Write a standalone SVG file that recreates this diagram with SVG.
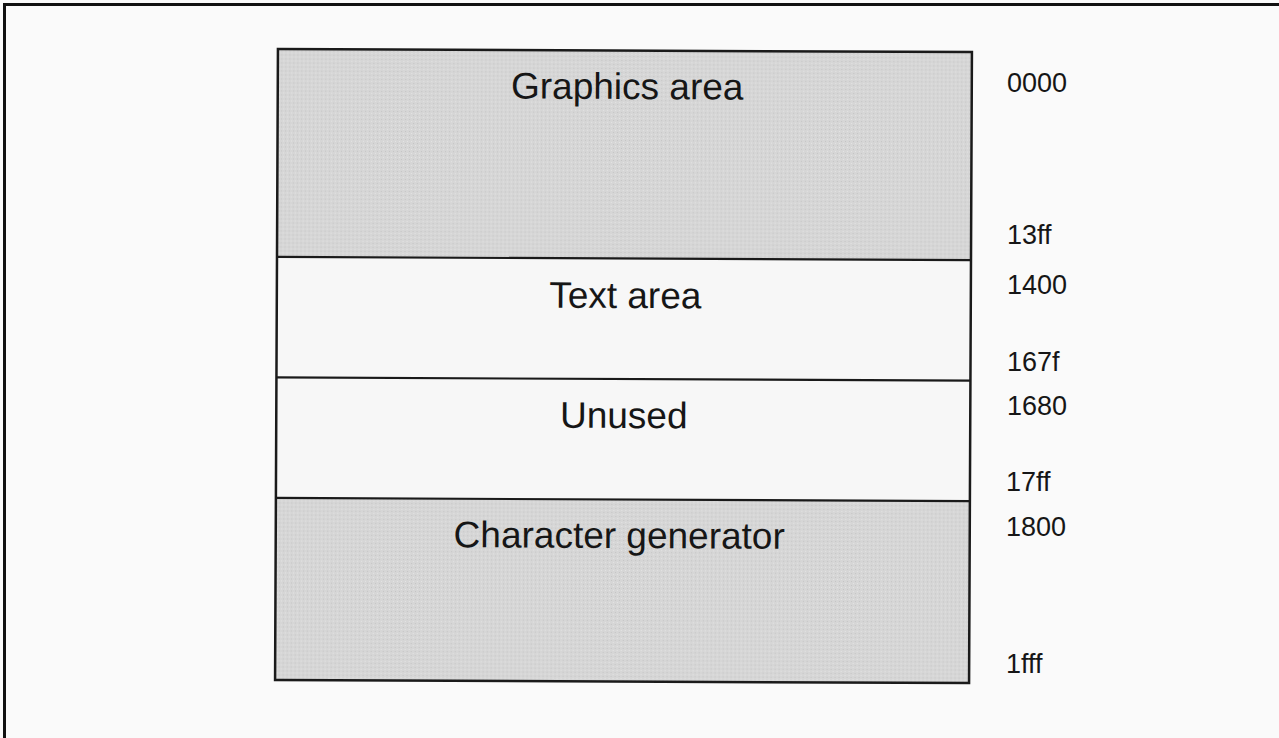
<svg xmlns="http://www.w3.org/2000/svg" width="1279" height="738" viewBox="0 0 1279 738">
<style>
.bg{fill:#fafafa}
.frame{stroke:#111;stroke-width:3;fill:none}
.plain{fill:#f7f7f7;stroke:none}
.edge{stroke:#1a1a1a;stroke-width:2.5;fill:none}
.div{stroke:#1a1a1a;stroke-width:2.2}
.lbl{font-family:"Liberation Sans",Arial,sans-serif;font-size:37px;fill:#161616;text-anchor:middle}
.addr{font-family:"Liberation Sans",Arial,sans-serif;font-size:27px;fill:#161616}
</style>
<defs>
<pattern id="dots" width="4" height="4" patternUnits="userSpaceOnUse">
<rect width="4" height="4" fill="#d6d6d6"/>
<rect x="0" y="0" width="1" height="1" fill="#c4c4c4"/>
<rect x="2" y="2" width="1" height="1" fill="#e4e4e4"/>
</pattern>
</defs>
<rect class="bg" x="0" y="0" width="1279" height="738"/>
<path class="frame" d="M4.5 738 V4.5 H1279"/>
<g transform="rotate(0.26 623.5 366)">
<g id="graphics">
<rect x="276.5" y="50.5" width="694" height="208" fill="url(#dots)"/>
<text class="lbl" x="626" y="99">Graphics area</text>
</g>
<g id="text-area">
<rect class="plain" x="276.5" y="258.5" width="694" height="120.5"/>
<text class="lbl" x="625" y="308">Text area</text>
</g>
<g id="unused">
<rect class="plain" x="276.5" y="379" width="694" height="120.5"/>
<text class="lbl" x="624" y="428">Unused</text>
</g>
<g id="chargen">
<rect x="276.5" y="499.5" width="694" height="182" fill="url(#dots)"/>
<text class="lbl" x="620" y="548">Character generator</text>
</g>
<rect class="edge" x="276.5" y="50.5" width="694" height="631"/>
<line class="div" x1="276.5" y1="258.5" x2="970.5" y2="258.5"/>
<line class="div" x1="276.5" y1="379" x2="970.5" y2="379"/>
<line class="div" x1="276.5" y1="499.5" x2="970.5" y2="499.5"/>
</g>
<g id="addresses">
<text class="addr" x="1007" y="92">0000</text>
<text class="addr" x="1007" y="244">13ff</text>
<text class="addr" x="1007" y="294">1400</text>
<text class="addr" x="1007" y="371">167f</text>
<text class="addr" x="1007" y="415">1680</text>
<text class="addr" x="1006" y="491">17ff</text>
<text class="addr" x="1006" y="536">1800</text>
<text class="addr" x="1006" y="673">1fff</text>
</g>
</svg>
